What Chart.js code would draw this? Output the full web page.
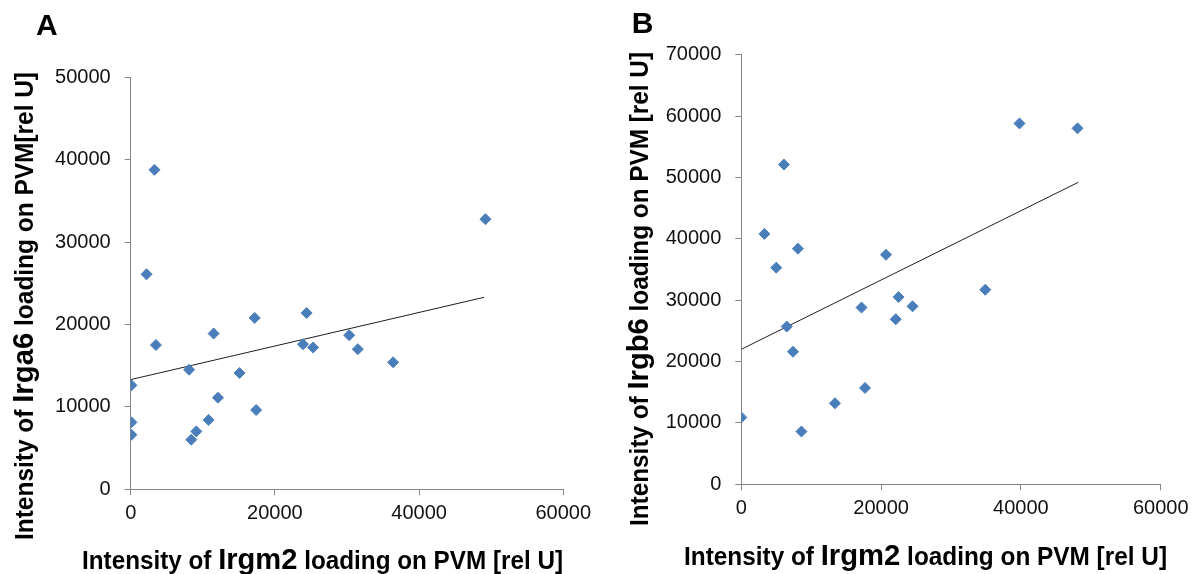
<!DOCTYPE html>
<html>
<head>
<meta charset="utf-8">
<script src="https://cdn.jsdelivr.net/npm/chart.js@4"></script>
<style>
  html, body { margin: 0; padding: 0; background: #fff; }
  #wrap { position: relative; width: 1197px; height: 574px; }
  .panel { position: absolute; top: 0; height: 574px; }
  #panel-a { left: 0; width: 600px; }
  #panel-b { left: 600px; width: 597px; }
</style>
</head>
<body>
<div id="wrap">
  <div class="panel" id="panel-a"><canvas id="chart-a" width="600" height="574"></canvas></div>
  <div class="panel" id="panel-b"><canvas id="chart-b" width="597" height="574"></canvas></div>
</div>
<script>
// panel A: Irgm2 (x) vs Irga6 (y)
const irgm2A = [3300, 49200, 2200, 24400, 17200, 11500, 3500, 30300, 23900, 25300, 31500,
  36400, 8100, 15100, 100, 12100, 17400, 10800, 100, 9100, 100, 8400];
const irga6 = [38800, 32800, 26100, 21400, 20800, 18900, 17500, 18700, 17600, 17200, 17000,
  15400, 14500, 14100, 12600, 11100, 9600, 8400, 8100, 7000, 6600, 6000];
const trendAx = [0, 49000];
const trendAy = [13300, 23300];

// panel B: Irgm2 (x) vs Irgb6 (y)
const irgm2B = [39800, 48100, 6100, 3300, 8100, 20700, 5000, 34900, 22500, 24500, 17200,
  22100, 6500, 7400, 17700, 13400, 0, 8600];
const irgb6 = [58800, 58000, 52100, 40800, 38400, 37400, 35300, 31700, 30500, 29000, 28800,
  26900, 25700, 21600, 15700, 13200, 10900, 8600];
const trendBx = [0, 48200];
const trendBy = [22000, 49200];

const xTicks = [0, 20000, 40000, 60000];
const yTicksA = [0, 10000, 20000, 30000, 40000, 50000];
const yTicksB = [0, 10000, 20000, 30000, 40000, 50000, 60000, 70000];

const FONT = "'Liberation Sans', Arial, sans-serif";
const AXIS_GREY = "#868686";
const BLUE = "#4a7ebb";

function toPoints(xs, ys) {
  return xs.map((x, i) => ({ x: x, y: ys[i] }));
}

// draws a title made of pieces with different fonts, squeezed to a target width
function drawRich(ctx, parts, target) {
  let total = 0;
  parts.forEach((p) => {
    ctx.font = p.font;
    p.w = ctx.measureText(p.text).width;
    total += p.w;
  });
  ctx.scale(target / total, 1);
  let x = -total / 2;
  parts.forEach((p) => {
    ctx.font = p.font;
    ctx.fillText(p.text, x, 0);
    x += p.w;
  });
}

function titleParts(gene, tail) {
  return [
    { text: "Intensity of ", font: "bold 25px " + FONT },
    { text: gene, font: "bold 30px " + FONT },
    { text: tail, font: "bold 25px " + FONT },
  ];
}

function titlesPlugin(cfg) {
  return {
    id: "titles",
    afterDraw(chart) {
      const ctx = chart.ctx;
      ctx.save();
      ctx.fillStyle = "#000";
      ctx.textBaseline = "alphabetic";
      ctx.textAlign = "left";
      ctx.font = "bold 30px " + FONT;
      ctx.fillText(cfg.letter, cfg.letterX, cfg.letterY);

      ctx.save();
      ctx.translate(cfg.xTitle.cx, cfg.xTitle.base);
      drawRich(ctx, titleParts("Irgm2", " loading on PVM [rel U]"), cfg.xTitle.span);
      ctx.restore();

      ctx.save();
      ctx.translate(cfg.yTitle.base, cfg.yTitle.cy);
      ctx.rotate(-Math.PI / 2);
      drawRich(ctx, titleParts(cfg.yGene, cfg.yTail), cfg.yTitle.span);
      ctx.restore();
      ctx.restore();
    },
  };
}

function makeChart(id, pts, tx, ty, yTicks, box, cfg) {
  const ctx = document.getElementById(id).getContext("2d");
  return new Chart(ctx, {
    type: "scatter",
    data: {
      datasets: [
        {
          data: toPoints(pts[0], pts[1]),
          pointStyle: "rectRot",
          pointRadius: 5.5,
          pointBorderWidth: 1,
          backgroundColor: BLUE,
          borderColor: BLUE,
          order: 1,
        },
        {
          type: "line",
          data: toPoints(tx, ty),
          borderColor: "#1e1e1e",
          borderWidth: 1,
          pointRadius: 0,
          fill: false,
          order: 2,
        },
      ],
    },
    options: {
      responsive: false,
      animation: false,
      events: [],
      layout: { padding: { left: 0, right: box.right, top: box.top, bottom: 0 } },
      plugins: { legend: { display: false }, tooltip: { enabled: false } },
      scales: {
        x: {
          type: "linear",
          min: xTicks[0],
          max: xTicks[xTicks.length - 1],
          afterFit: (s) => { s.height = box.xh; },
          ticks: {
            stepSize: xTicks[1] - xTicks[0],
            padding: 6,
            color: "#111",
            font: { family: FONT, size: 20 },
            callback: (v) => String(v),
          },
          grid: { drawOnChartArea: false, tickLength: 6, color: AXIS_GREY },
          border: { color: AXIS_GREY },
        },
        y: {
          type: "linear",
          min: yTicks[0],
          max: yTicks[yTicks.length - 1],
          afterFit: (s) => { s.width = box.yw; },
          ticks: {
            stepSize: yTicks[1] - yTicks[0],
            padding: 14,
            color: "#111",
            font: { family: FONT, size: 20 },
            callback: (v) => String(v),
          },
          grid: { drawOnChartArea: false, tickLength: 6, color: AXIS_GREY },
          border: { color: AXIS_GREY },
        },
      },
    },
    plugins: [titlesPlugin(cfg)],
  });
}

makeChart("chart-a", [irgm2A, irga6], trendAx, trendAy, yTicksA,
  { right: 36.7, top: 77.7, xh: 85, yw: 130.7 },
  {
    letter: "A", letterX: 36, letterY: 35,
    xTitle: { cx: 322.5, base: 569, span: 481 },
    yTitle: { base: 33, cy: 306, span: 468 },
    yGene: "Irga6", yTail: " loading on PVM[rel U]",
  });

makeChart("chart-b", [irgm2B, irgb6], trendBx, trendBy, yTicksB,
  { right: 36.3, top: 54.7, xh: 89.7, yw: 141.3 },
  {
    letter: "B", letterX: 31.7, letterY: 33,
    xTitle: { cx: 325.5, base: 565, span: 483 },
    yTitle: { base: 48, cy: 289, span: 474 },
    yGene: "Irgb6", yTail: " loading on PVM [rel U]",
  });
</script>
</body>
</html>
